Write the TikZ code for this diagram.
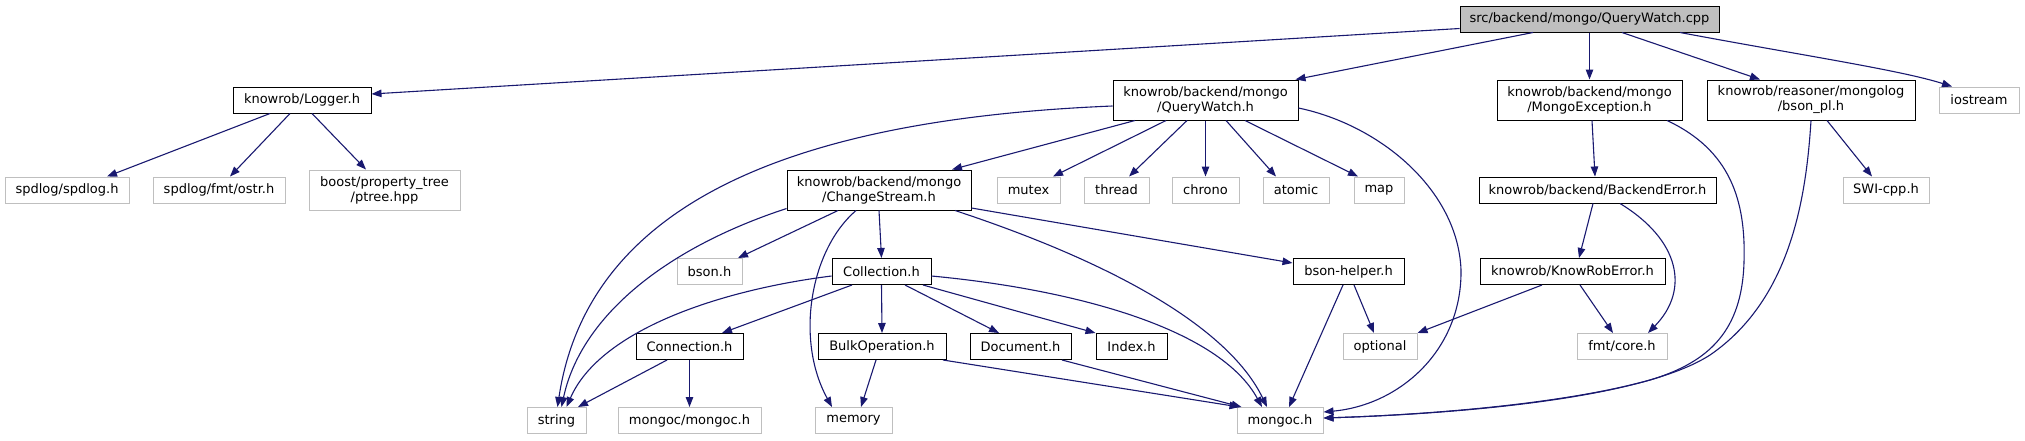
\documentclass[tikz,border=0pt]{standalone}
\usepackage{fontspec}
\setmainfont{DejaVu Sans}
\usetikzlibrary{arrows.meta}
\definecolor{edgec}{HTML}{191970}
\definecolor{sysc}{HTML}{BFBFBF}
\begin{document}
\begin{tikzpicture}[x=1pt,y=-1pt,
  box/.style={draw=black,fill=white,line width=1pt,inner sep=0pt,minimum height=26pt,align=center,font=\fontsize{13}{15}\selectfont},
  sysbox/.style={box,draw=sysc},
  rootbox/.style={box,fill=sysc},
  tall/.style={minimum height=40pt},
  dep/.style={draw=edgec,line width=1.1pt,-{Triangle[length=10pt,width=7.5pt]}}
]
\useasboundingbox[fill=white] (0,0) rectangle (2025,440);
% row 1
\node[rootbox,minimum width=259pt] (root) at (1589.5,19) {src/backend/mongo/QueryWatch.cpp};
% row 2
\node[box,minimum width=138pt] (logger) at (302,100) {knowrob/Logger.h};
\node[box,tall,minimum width=185pt] (qwh) at (1205.5,100) {knowrob/backend/mongo\\/QueryWatch.h};
\node[box,tall,minimum width=185pt] (mexc) at (1589.5,100) {knowrob/backend/mongo\\/MongoException.h};
\node[box,tall,minimum width=208pt] (bsonpl) at (1811,100) {knowrob/reasoner/mongolog\\/bson\_pl.h};
\node[sysbox,minimum width=80pt] (iostream) at (1979,100) {iostream};
% row 3
\node[sysbox,minimum width=124pt] (spdlog) at (67,190) {spdlog/spdlog.h};
\node[sysbox,minimum width=132pt] (ostr) at (219,190) {spdlog/fmt/ostr.h};
\node[sysbox,tall,minimum width=151pt] (boost) at (384.5,190) {boost/property\_tree\\/ptree.hpp};
\node[box,tall,minimum width=184pt] (cs) at (879,190) {knowrob/backend/mongo\\/ChangeStream.h};
\node[sysbox,minimum width=63pt] (mutex) at (1028.5,190) {mutex};
\node[sysbox,minimum width=65pt] (thread) at (1116.5,190) {thread};
\node[sysbox,minimum width=67pt] (chrono) at (1205.5,190) {chrono};
\node[sysbox,minimum width=66pt] (atomic) at (1296,190) {atomic};
\node[sysbox,minimum width=50pt] (map) at (1379,190) {map};
\node[box,minimum width=237pt] (backerr) at (1597.5,190) {knowrob/backend/BackendError.h};
\node[sysbox,minimum width=86pt] (swi) at (1886,190) {SWI-cpp.h};
% row 4
\node[sysbox,minimum width=65pt] (bsonh) at (709.5,271.5) {bson.h};
\node[box,minimum width=99pt] (coll) at (881.5,271.5) {Collection.h};
\node[box,minimum width=111pt] (bhelper) at (1348.5,271.5) {bson-helper.h};
\node[box,minimum width=185pt] (kre) at (1572.5,271.5) {knowrob/KnowRobError.h};
% row 5
\node[box,minimum width=107pt] (conn) at (689.5,346.5) {Connection.h};
\node[box,minimum width=128pt] (bulk) at (882,346.5) {BulkOperation.h};
\node[box,minimum width=101pt] (doc) at (1020.5,346.5) {Document.h};
\node[box,minimum width=71pt] (index) at (1131.5,346.5) {Index.h};
\node[sysbox,minimum width=74pt] (optional) at (1380,346.5) {optional};
\node[sysbox,minimum width=90pt] (fmtcore) at (1622,346.5) {fmt/core.h};
% row 6
\node[sysbox,minimum width=59pt] (string) at (556.5,420.5) {string};
\node[sysbox,minimum width=143pt] (mmongoc) at (689.5,420.5) {mongoc/mongoc.h};
\node[sysbox,minimum width=77pt] (memory) at (853.5,420.5) {memory};
\node[sysbox,minimum width=86pt] (mongoc) at (1280,420.5) {mongoc.h};

% edges from root
\draw[dep] ([yshift=4pt]root.south west) -- ([yshift=6pt]logger.east);
\draw[dep] ([xshift=-56.5pt]root.south) -- ([xshift=-3pt]qwh.north east);
\draw[dep] (root.south) -- (mexc.north);
\draw[dep] ([xshift=32.5pt]root.south) -- ([xshift=-51pt]bsonpl.north);
\draw[dep] ([xshift=90.5pt]root.south) .. controls (1800,55) and (1900,70) .. ([xshift=-27pt]iostream.north);
% Logger
\draw[dep] ([xshift=-32pt]logger.south) -- ([xshift=40pt]spdlog.north);
\draw[dep] ([xshift=-12pt]logger.south) -- ([xshift=11pt]ostr.north);
\draw[dep] ([xshift=10pt]logger.south) -- ([xshift=-18.5pt]boost.north);
% QueryWatch.h
\draw[dep] ([yshift=-6pt]qwh.west) .. controls (820,118) and (590,190) .. ([xshift=1pt]string.north);
\draw[dep] ([xshift=-70.5pt]qwh.south) -- ([xshift=73pt]cs.north);
\draw[dep] ([xshift=-39.5pt]qwh.south) -- ([xshift=24.5pt]mutex.north);
\draw[dep] ([xshift=-18.5pt]qwh.south) -- ([xshift=12.5pt]thread.north);
\draw[dep] (qwh.south) -- (chrono.north);
\draw[dep] ([xshift=20.5pt]qwh.south) -- ([xshift=-20pt]atomic.north);
\draw[dep] ([xshift=39.5pt]qwh.south) -- ([xshift=-21pt]map.north);
\draw[dep] ([yshift=-8pt]qwh.east) .. controls (1380,125) and (1458,190) .. (1461,270) .. controls (1462,350) and (1400,405) .. ([yshift=8.5pt]mongoc.east);
% ChangeStream.h
\draw[dep] ([yshift=2pt]cs.south west) .. controls (660,250) and (580,320) .. ([xshift=5pt]string.north);
\draw[dep] ([xshift=-41pt]cs.south) -- ([xshift=28.5pt]bsonh.north);
\draw[dep] (cs.south) -- (coll.north);
\draw[dep] ([xshift=-23pt]cs.south) .. controls (810,250) and (795,340) .. ([xshift=-21.5pt]memory.north);
\draw[dep] ([xshift=76pt]cs.south) .. controls (1120,265) and (1230,330) .. ([xshift=-13pt]mongoc.north);
\draw[dep] ([yshift=-18pt]cs.east) -- ([yshift=8.5pt]bhelper.west);
% Collection.h
\draw[dep] ([yshift=-4.5pt]coll.west) .. controls (720,290) and (600,330) .. ([xshift=10pt]string.north);
\draw[dep] ([xshift=-29.5pt]coll.south) -- ([xshift=32.5pt]conn.north);
\draw[dep] (coll.south) -- (bulk.north);
\draw[dep] ([xshift=23.5pt]coll.south) -- ([xshift=-21.5pt]doc.north);
\draw[dep] ([xshift=41.5pt]coll.south) -- (index.north west);
\draw[dep] ([yshift=-4.5pt]coll.east) .. controls (1080,290) and (1220,330) .. ([xshift=-18pt]mongoc.north);
% Connection.h
\draw[dep] ([xshift=-22.5pt]conn.south) -- ([xshift=21.5pt]string.north);
\draw[dep] (conn.south) -- (mmongoc.north);
% BulkOperation.h, Document.h
\draw[dep] ([xshift=-6pt]bulk.south) -- ([xshift=7.5pt]memory.north);
\draw[dep] ([xshift=61pt]bulk.south) -- ([xshift=3pt]mongoc.north west);
\draw[dep] ([xshift=41.5pt]doc.south) -- ([xshift=5pt]mongoc.north west);
% bson-helper.h
\draw[dep] ([xshift=-5.5pt]bhelper.south) -- ([xshift=9pt]mongoc.north);
\draw[dep] ([xshift=5.5pt]bhelper.south) -- ([xshift=-6pt]optional.north);
% MongoException.h
\draw[dep] ([xshift=2.5pt]mexc.south) -- ([xshift=-2.5pt]backerr.north);
\draw[dep] ([xshift=77.5pt]mexc.south) .. controls (1730,150) and (1746,200) .. (1744,262) .. controls (1742,330) and (1710,362) .. (1650,380) .. controls (1560,405) and (1420,415) .. ([yshift=2.5pt]mongoc.east);
% bson_pl.h
\draw[dep] (bsonpl.south) .. controls (1806,200) and (1790,300) .. (1710,355) .. controls (1640,400) and (1450,414) .. ([yshift=2.5pt]mongoc.east);
\draw[dep] ([xshift=16pt]bsonpl.south) -- ([xshift=-14pt]swi.north);
% BackendError.h
\draw[dep] ([xshift=-4.5pt]backerr.south) -- ([xshift=6.5pt]kre.north);
\draw[dep] ([xshift=22.5pt]backerr.south) .. controls (1680,240) and (1690,290) .. ([xshift=26pt]fmtcore.north);
% KnowRobError.h
\draw[dep] ([xshift=-30.5pt]kre.south) -- (optional.north east);
\draw[dep] ([xshift=7.5pt]kre.south) -- ([xshift=-9pt]fmtcore.north);
\end{tikzpicture}
\end{document}
